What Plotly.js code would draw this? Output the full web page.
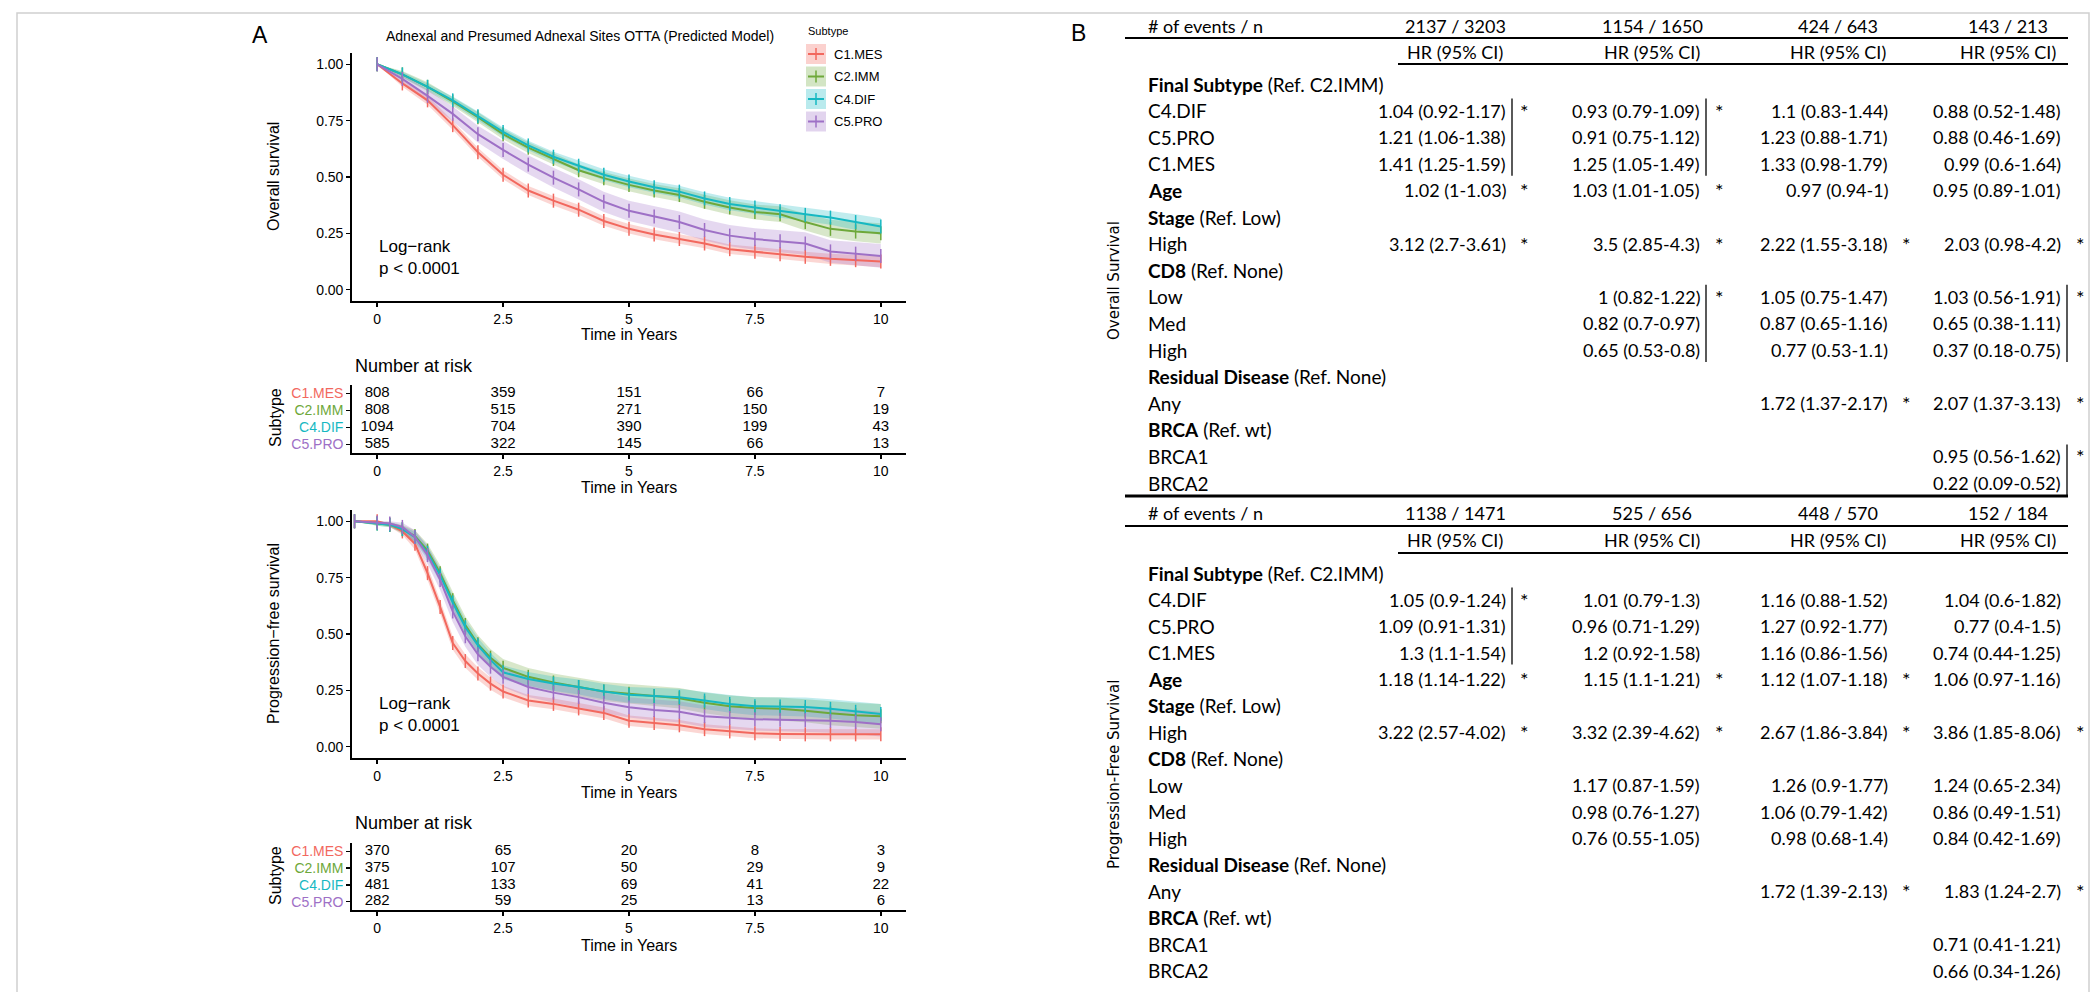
<!DOCTYPE html>
<html>
<head>
<meta charset="utf-8">
<script src="https://cdn.plot.ly/plotly-3.0.1.min.js"></script>
<style>
  html, body { margin: 0; padding: 0; background: #fff; }
  #chart { width: 2100px; height: 992px; }
</style>
</head>
<body>
<div id="chart"></div>
<script>
// ---- panel A data ----
const subtypes = ['C1.MES', 'C2.IMM', 'C4.DIF', 'C5.PRO'];
const rgb = [[242, 104, 94], [110, 168, 58], [22, 184, 194], [158, 112, 198]];

const osTime = [0, 0.5, 1, 1.5, 2, 2.5, 3, 3.5, 4, 4.5, 5, 5.5, 6, 6.5, 7, 7.5, 8, 8.5, 9, 9.5, 10];
const osMES = [1.0, 0.915, 0.84, 0.73, 0.61, 0.51, 0.44, 0.395, 0.355, 0.305, 0.27, 0.245, 0.225, 0.205, 0.18, 0.168, 0.157, 0.146, 0.137, 0.131, 0.125];
const osIMM = [1.0, 0.955, 0.90, 0.835, 0.765, 0.69, 0.63, 0.58, 0.53, 0.495, 0.465, 0.44, 0.42, 0.39, 0.365, 0.345, 0.335, 0.30, 0.27, 0.258, 0.25];
const osDIF = [1.0, 0.955, 0.90, 0.84, 0.77, 0.70, 0.64, 0.59, 0.55, 0.51, 0.48, 0.455, 0.435, 0.405, 0.38, 0.365, 0.348, 0.332, 0.32, 0.30, 0.28];
const osPRO = [1.0, 0.935, 0.86, 0.78, 0.69, 0.62, 0.555, 0.497, 0.445, 0.39, 0.35, 0.325, 0.30, 0.265, 0.24, 0.225, 0.215, 0.205, 0.17, 0.16, 0.15];

const osMESlo = [1.0, 0.90, 0.82, 0.71, 0.59, 0.49, 0.42, 0.374, 0.333, 0.284, 0.249, 0.224, 0.204, 0.184, 0.159, 0.147, 0.135, 0.124, 0.114, 0.107, 0.100];
const osMEShi = [1.0, 0.93, 0.86, 0.75, 0.63, 0.53, 0.46, 0.416, 0.377, 0.326, 0.291, 0.266, 0.246, 0.226, 0.201, 0.189, 0.179, 0.168, 0.160, 0.155, 0.150];
const osIMMlo = [1.0, 0.94, 0.88, 0.815, 0.743, 0.667, 0.606, 0.555, 0.504, 0.468, 0.437, 0.411, 0.390, 0.359, 0.333, 0.312, 0.300, 0.263, 0.230, 0.215, 0.205];
const osIMMhi = [1.0, 0.97, 0.92, 0.855, 0.787, 0.713, 0.654, 0.605, 0.556, 0.522, 0.493, 0.469, 0.450, 0.421, 0.397, 0.378, 0.370, 0.337, 0.310, 0.301, 0.295];
const osDIFlo = [1.0, 0.943, 0.885, 0.823, 0.75, 0.68, 0.619, 0.568, 0.527, 0.486, 0.455, 0.43, 0.409, 0.378, 0.352, 0.336, 0.318, 0.301, 0.288, 0.265, 0.243];
const osDIFhi = [1.0, 0.967, 0.915, 0.857, 0.79, 0.72, 0.661, 0.612, 0.573, 0.534, 0.505, 0.48, 0.461, 0.432, 0.408, 0.394, 0.378, 0.363, 0.352, 0.335, 0.317];
const osPROlo = [1.0, 0.915, 0.832, 0.747, 0.653, 0.58, 0.513, 0.453, 0.4, 0.345, 0.305, 0.279, 0.253, 0.218, 0.193, 0.177, 0.166, 0.155, 0.12, 0.108, 0.097];
const osPROhi = [1.0, 0.955, 0.888, 0.813, 0.727, 0.66, 0.597, 0.541, 0.49, 0.435, 0.395, 0.371, 0.347, 0.312, 0.287, 0.273, 0.264, 0.255, 0.22, 0.212, 0.203];

const pfsTime = [-0.45, 0, 0.25, 0.5, 0.75, 1, 1.25, 1.5, 1.75, 2, 2.25, 2.5, 3, 3.5, 4, 4.5, 5, 5.5, 6, 6.5, 7, 7.5, 8, 8.5, 9, 9.5, 10];
const pfsMES = [1.0, 1.0, 0.985, 0.955, 0.90, 0.77, 0.62, 0.46, 0.38, 0.325, 0.28, 0.245, 0.205, 0.19, 0.17, 0.15, 0.115, 0.105, 0.095, 0.078, 0.068, 0.06, 0.057, 0.055, 0.055, 0.055, 0.055];
const pfsIMM = [1.0, 0.99, 0.985, 0.965, 0.935, 0.87, 0.77, 0.65, 0.54, 0.455, 0.395, 0.35, 0.31, 0.285, 0.265, 0.245, 0.235, 0.225, 0.215, 0.195, 0.18, 0.172, 0.168, 0.16, 0.148, 0.14, 0.135];
const pfsDIF = [1.0, 0.99, 0.985, 0.965, 0.93, 0.86, 0.76, 0.64, 0.53, 0.45, 0.385, 0.33, 0.30, 0.28, 0.265, 0.245, 0.23, 0.225, 0.22, 0.205, 0.19, 0.18, 0.178, 0.176, 0.168, 0.155, 0.145];
const pfsPRO = [1.0, 0.995, 0.99, 0.975, 0.93, 0.85, 0.74, 0.60, 0.49, 0.41, 0.355, 0.31, 0.265, 0.24, 0.22, 0.195, 0.175, 0.163, 0.155, 0.135, 0.128, 0.122, 0.12, 0.118, 0.115, 0.11, 0.10];

const pfsMESlo = [1.0, 1.0, 0.975, 0.94, 0.875, 0.74, 0.59, 0.43, 0.35, 0.297, 0.253, 0.219, 0.181, 0.166, 0.146, 0.126, 0.092, 0.082, 0.072, 0.056, 0.046, 0.038, 0.035, 0.032, 0.032, 0.032, 0.032];
const pfsMEShi = [1.0, 1.0, 0.995, 0.97, 0.925, 0.80, 0.65, 0.49, 0.41, 0.353, 0.307, 0.271, 0.229, 0.214, 0.194, 0.174, 0.138, 0.128, 0.118, 0.10, 0.09, 0.082, 0.079, 0.078, 0.078, 0.078, 0.078];
const pfsIMMlo = [1.0, 0.98, 0.973, 0.947, 0.91, 0.84, 0.735, 0.613, 0.502, 0.416, 0.356, 0.311, 0.271, 0.245, 0.224, 0.203, 0.192, 0.181, 0.17, 0.149, 0.133, 0.124, 0.118, 0.109, 0.095, 0.086, 0.08];
const pfsIMMhi = [1.0, 1.0, 0.997, 0.983, 0.96, 0.90, 0.805, 0.687, 0.578, 0.494, 0.434, 0.389, 0.349, 0.325, 0.306, 0.287, 0.278, 0.269, 0.26, 0.241, 0.227, 0.22, 0.218, 0.211, 0.201, 0.194, 0.19];
const pfsDIFlo = [1.0, 0.98, 0.975, 0.95, 0.908, 0.83, 0.728, 0.607, 0.497, 0.417, 0.353, 0.299, 0.269, 0.248, 0.232, 0.211, 0.195, 0.189, 0.183, 0.167, 0.151, 0.14, 0.137, 0.134, 0.125, 0.111, 0.1];
const pfsDIFhi = [1.0, 1.0, 0.995, 0.98, 0.952, 0.89, 0.792, 0.673, 0.563, 0.483, 0.417, 0.361, 0.331, 0.312, 0.298, 0.279, 0.265, 0.261, 0.257, 0.243, 0.229, 0.22, 0.219, 0.218, 0.211, 0.199, 0.19];
const pfsPROlo = [1.0, 0.985, 0.98, 0.957, 0.9, 0.81, 0.695, 0.553, 0.443, 0.363, 0.309, 0.265, 0.221, 0.196, 0.175, 0.15, 0.13, 0.117, 0.108, 0.087, 0.079, 0.072, 0.069, 0.066, 0.062, 0.056, 0.045];
const pfsPROhi = [1.0, 1.0, 1.0, 0.993, 0.96, 0.89, 0.785, 0.647, 0.537, 0.457, 0.401, 0.355, 0.309, 0.284, 0.265, 0.24, 0.22, 0.209, 0.202, 0.183, 0.177, 0.172, 0.171, 0.17, 0.168, 0.164, 0.155];

const riskTimes = [0, 2.5, 5, 7.5, 10];
const osRisk = [[808, 359, 151, 66, 7], [808, 515, 271, 150, 19], [1094, 704, 390, 199, 43], [585, 322, 145, 66, 13]];
const pfsRisk = [[370, 65, 20, 8, 3], [375, 107, 50, 29, 9], [481, 133, 69, 41, 22], [282, 59, 25, 13, 6]];

// ---- panel B data ----
const rowLabels = [
  '<b>Final Subtype</b> (Ref. C2.IMM)', 'C4.DIF', 'C5.PRO', 'C1.MES', '<b>Age</b>',
  '<b>Stage</b> (Ref. Low)', 'High', '<b>CD8</b> (Ref. None)', 'Low', 'Med', 'High',
  '<b>Residual Disease</b> (Ref. None)', 'Any', '<b>BRCA</b> (Ref. wt)', 'BRCA1', 'BRCA2'
];
const osEvents = ['2137 / 3203', '1154 / 1650', '424 / 643', '143 / 213'];
const pfsEvents = ['1138 / 1471', '525 / 656', '448 / 570', '152 / 184'];

const osHR = [
  ['', '1.04 (0.92-1.17)', '1.21 (1.06-1.38)', '1.41 (1.25-1.59)', '1.02 (1-1.03)', '', '3.12 (2.7-3.61)', '', '', '', '', '', '', '', '', ''],
  ['', '0.93 (0.79-1.09)', '0.91 (0.75-1.12)', '1.25 (1.05-1.49)', '1.03 (1.01-1.05)', '', '3.5 (2.85-4.3)', '', '1 (0.82-1.22)', '0.82 (0.7-0.97)', '0.65 (0.53-0.8)', '', '', '', '', ''],
  ['', '1.1 (0.83-1.44)', '1.23 (0.88-1.71)', '1.33 (0.98-1.79)', '0.97 (0.94-1)', '', '2.22 (1.55-3.18)', '', '1.05 (0.75-1.47)', '0.87 (0.65-1.16)', '0.77 (0.53-1.1)', '', '1.72 (1.37-2.17)', '', '', ''],
  ['', '0.88 (0.52-1.48)', '0.88 (0.46-1.69)', '0.99 (0.6-1.64)', '0.95 (0.89-1.01)', '', '2.03 (0.98-4.2)', '', '1.03 (0.56-1.91)', '0.65 (0.38-1.11)', '0.37 (0.18-0.75)', '', '2.07 (1.37-3.13)', '', '0.95 (0.56-1.62)', '0.22 (0.09-0.52)']
];
const osStars = [[1, 4, 6], [1, 4, 6, 8], [6, 12], [6, 8, 12, 14]];
const osBars = [[[1, 3]], [[1, 3], [8, 10]], [], [[8, 10], [14, 15]]];

const pfsHR = [
  ['', '1.05 (0.9-1.24)', '1.09 (0.91-1.31)', '1.3 (1.1-1.54)', '1.18 (1.14-1.22)', '', '3.22 (2.57-4.02)', '', '', '', '', '', '', '', '', ''],
  ['', '1.01 (0.79-1.3)', '0.96 (0.71-1.29)', '1.2 (0.92-1.58)', '1.15 (1.1-1.21)', '', '3.32 (2.39-4.62)', '', '1.17 (0.87-1.59)', '0.98 (0.76-1.27)', '0.76 (0.55-1.05)', '', '', '', '', ''],
  ['', '1.16 (0.88-1.52)', '1.27 (0.92-1.77)', '1.16 (0.86-1.56)', '1.12 (1.07-1.18)', '', '2.67 (1.86-3.84)', '', '1.26 (0.9-1.77)', '1.06 (0.79-1.42)', '0.98 (0.68-1.4)', '', '1.72 (1.39-2.13)', '', '', ''],
  ['', '1.04 (0.6-1.82)', '0.77 (0.4-1.5)', '0.74 (0.44-1.25)', '1.06 (0.97-1.16)', '', '3.86 (1.85-8.06)', '', '1.24 (0.65-2.34)', '0.86 (0.49-1.51)', '0.84 (0.42-1.69)', '', '1.83 (1.24-2.7)', '', '0.71 (0.41-1.21)', '0.66 (0.34-1.26)']
];
const pfsStars = [[1, 4, 6], [4, 6], [4, 6, 12], [6, 12]];
const pfsBars = [[[1, 3]], [], [], []];

// ---- helpers ----
const W = 2100, H = 992;
const px = (x) => x / W;
const py = (y) => 1 - y / H;
const sans = 'Liberation Sans, Arial, sans-serif';
const tableFont = 'Lato, Liberation Sans, sans-serif';
const col = (i, a) => a === undefined ? `rgb(${rgb[i].join(',')})` : `rgba(${rgb[i].join(',')},${a})`;

const traces = [];
const annotations = [];
const shapes = [];

function kmTraces(time, surv, lo, hi, xa, ya) {
  subtypes.forEach((s, i) => {
    traces.push({x: time, y: lo[i], xaxis: xa, yaxis: ya, mode: 'lines', line: {width: 0, color: col(i)},
      showlegend: false, hoverinfo: 'skip'});
    traces.push({x: time, y: hi[i], xaxis: xa, yaxis: ya, mode: 'lines', line: {width: 0, color: col(i)},
      fill: 'tonexty', fillcolor: col(i, 0.27), showlegend: false, hoverinfo: 'skip'});
  });
  subtypes.forEach((s, i) => {
    traces.push({x: time, y: surv[i], xaxis: xa, yaxis: ya, mode: 'lines+markers', name: s,
      line: {width: 2, color: col(i)},
      marker: {symbol: 'line-ns-open', size: 10, line: {width: 1.5, color: col(i)}},
      showlegend: false});
  });
}

function riskTraces(risk, xa, ya) {
  subtypes.forEach((s, i) => {
    traces.push({x: riskTimes, y: riskTimes.map(() => s), xaxis: xa, yaxis: ya, mode: 'text',
      text: risk[i].map(String), textfont: {family: sans, size: 15, color: '#000'},
      showlegend: false, hoverinfo: 'skip'});
  });
}

kmTraces(osTime, [osMES, osIMM, osDIF, osPRO], [osMESlo, osIMMlo, osDIFlo, osPROlo], [osMEShi, osIMMhi, osDIFhi, osPROhi], 'x', 'y');
riskTraces(osRisk, 'x2', 'y2');
kmTraces(pfsTime, [pfsMES, pfsIMM, pfsDIF, pfsPRO], [pfsMESlo, pfsIMMlo, pfsDIFlo, pfsPROlo], [pfsMEShi, pfsIMMhi, pfsDIFhi, pfsPROhi], 'x3', 'y3');
riskTraces(pfsRisk, 'x4', 'y4');

const axisBase = {
  showline: true, linecolor: '#000', linewidth: 1.8, ticks: 'outside', ticklen: 4, tickwidth: 1.5,
  tickcolor: '#000', showgrid: false, zeroline: false, tickfont: {family: sans, size: 14, color: '#000'}
};
const timeAxis = (dom, anchor) => Object.assign({}, axisBase, {
  domain: dom, anchor: anchor, range: [-0.5, 10.5],
  tickvals: [0, 2.5, 5, 7.5, 10], ticktext: ['0', '2.5', '5', '7.5', '10']
});
const survAxis = (dom, anchor) => Object.assign({}, axisBase, {
  domain: dom, anchor: anchor, range: [-0.05, 1.05],
  tickvals: [0, 0.25, 0.5, 0.75, 1], ticktext: ['0.00', '0.25', '0.50', '0.75', '1.00']
});
const riskAxis = (dom, anchor) => Object.assign({}, axisBase, {
  domain: dom, anchor: anchor, type: 'category', categoryarray: subtypes, range: [3.5, -0.5],
  tickvals: subtypes, ticktext: subtypes.map((s, i) => `<span style="color:${col(i)}">${s}</span>`)
});
const xDom = [px(352), px(906)];

// ---- panel A texts ----
function txt(x, y, text, size, opts) {
  annotations.push(Object.assign({xref: 'paper', yref: 'paper', x: px(x), y: py(y), text: text, showarrow: false,
    font: {family: sans, size: size, color: '#000'}, xanchor: 'center', yanchor: 'middle'}, opts || {}));
}
txt(260, 35, 'A', 23);
txt(580, 36, 'Adnexal and Presumed Adnexal Sites OTTA (Predicted Model)', 14);
txt(273, 177, 'Overall survival', 16, {textangle: -90});
txt(273, 634, 'Progression\u2212free survival', 16, {textangle: -90});
txt(275, 418, 'Subtype', 16, {textangle: -90});
txt(275, 876, 'Subtype', 16, {textangle: -90});
[335, 487, 792, 945].forEach((y) => txt(629, y, 'Time in Years', 16));
txt(353, 366, 'Number at risk', 18, {xanchor: 'left'});
txt(353, 823, 'Number at risk', 18, {xanchor: 'left'});
[['x', 'y'], ['x3', 'y3']].forEach(([xa, ya]) => {
  annotations.push({xref: xa, yref: ya, x: 0, y: 0.19, text: 'Log\u2212rank', showarrow: false, xanchor: 'left',
    font: {family: sans, size: 17, color: '#000'}});
  annotations.push({xref: xa, yref: ya, x: 0, y: 0.095, text: 'p < 0.0001', showarrow: false, xanchor: 'left',
    font: {family: sans, size: 17, color: '#000'}});
});

// legend
txt(806, 31, 'Subtype', 11, {xanchor: 'left'});
subtypes.forEach((s, i) => {
  const y = 54 + 22.5 * i;
  shapes.push({type: 'rect', xref: 'paper', yref: 'paper', x0: px(806), x1: px(826), y0: py(y - 10), y1: py(y + 10),
    fillcolor: col(i, 0.3), line: {width: 0}});
  shapes.push({type: 'line', xref: 'paper', yref: 'paper', x0: px(808), x1: px(824), y0: py(y), y1: py(y),
    line: {color: col(i), width: 2}});
  shapes.push({type: 'line', xref: 'paper', yref: 'paper', x0: px(816), x1: px(816), y0: py(y - 6), y1: py(y + 6),
    line: {color: col(i), width: 1.5}});
  txt(832, y, s, 13, {xanchor: 'left'});
});

// frame
shapes.push({type: 'path', xref: 'paper', yref: 'paper',
  path: `M ${px(17)} ${py(1000)} L ${px(17)} ${py(13)} L ${px(2089)} ${py(13)} L ${px(2089)} ${py(1000)}`,
  line: {color: '#d0d0d0', width: 1.5}});

// ---- panel B ----
txt(1078, 33, 'B', 23);
const colRight = [1508, 1702, 1890, 2063];
const colCenter = [1455, 1652, 1838, 2008];
const starX = [1524, 1719, 1906, 2080];

function addTable(t) {
  const cell = (x, y, text, anchor, size) => annotations.push({xref: 'x5', yref: 'y5', x: x, y: y, text: text, showarrow: false,
    xanchor: anchor, yanchor: 'middle', font: {family: tableFont, size: size || 18, color: '#000'}});
  const rule = (x0, x1, y, w) => shapes.push({type: 'line', xref: 'x5', yref: 'y5', x0: x0, x1: x1, y0: y, y1: y,
    line: {color: '#000', width: w}});
  cell(1146, t.header, '# of events / n', 'left');
  t.events.forEach((e, c) => {
    cell(colCenter[c], t.header, e, 'center');
    cell(colCenter[c], t.hr, 'HR (95% CI)', 'center');
  });
  rule(1125, 2068, t.rule1, 1.8);
  rule(1398, 2068, t.rule2, 1.8);
  rowLabels.forEach((lab, r) => cell(1146, t.row0 + t.step * r, lab, 'left', 19));
  t.values.forEach((colVals, c) => {
    colVals.forEach((v, r) => { if (v) cell(colRight[c], t.row0 + t.step * r, v, 'right'); });
    t.stars[c].forEach((r) => cell(starX[c], t.row0 + t.step * r, '*', 'center', 20));
    t.bars[c].forEach(([a, b]) => shapes.push({type: 'line', xref: 'x5', yref: 'y5',
      x0: colRight[c] + 4, x1: colRight[c] + 4, y0: t.row0 + t.step * a - 12, y1: t.row0 + t.step * b + 12,
      line: {color: '#000', width: 1.3}}));
  });
  annotations.push({xref: 'x5', yref: 'y5', x: 1114, y: t.titleY, text: t.title, showarrow: false, textangle: -90,
    font: {family: 'DejaVu Sans, sans-serif', size: 15, color: '#000'}});
}

addTable({header: 26, rule1: 38, hr: 52, rule2: 64, row0: 84, step: 26.6, events: osEvents, values: osHR,
  stars: osStars, bars: osBars, title: 'Overall Survival', titleY: 281});
shapes.push({type: 'line', xref: 'x5', yref: 'y5', x0: 1125, x1: 2068, y0: 496, y1: 496, line: {color: '#000', width: 3}});
addTable({header: 513, rule1: 526, hr: 540, rule2: 553, row0: 573, step: 26.5, events: pfsEvents, values: pfsHR,
  stars: pfsStars, bars: pfsBars, title: 'Progression-Free Survival', titleY: 775});

const layout = {
  width: W, height: H, margin: {l: 0, r: 0, t: 0, b: 0},
  paper_bgcolor: '#fff', plot_bgcolor: 'rgba(0,0,0,0)', showlegend: false,
  xaxis: timeAxis(xDom, 'y'),
  yaxis: survAxis([py(301), py(53)], 'x'),
  xaxis2: timeAxis(xDom, 'y2'),
  yaxis2: riskAxis([py(453), py(385)], 'x2'),
  xaxis3: timeAxis(xDom, 'y3'),
  yaxis3: survAxis([py(758), py(510)], 'x3'),
  xaxis4: timeAxis(xDom, 'y4'),
  yaxis4: riskAxis([py(910), py(843)], 'x4'),
  xaxis5: {domain: [0, 1], range: [0, W], anchor: 'y5', visible: false},
  yaxis5: {domain: [0, 1], range: [H, 0], anchor: 'x5', visible: false},
  annotations: annotations,
  shapes: shapes
};

Plotly.newPlot(document.getElementById('chart'), traces, layout, {displayModeBar: false, staticPlot: true});
</script>
</body>
</html>
